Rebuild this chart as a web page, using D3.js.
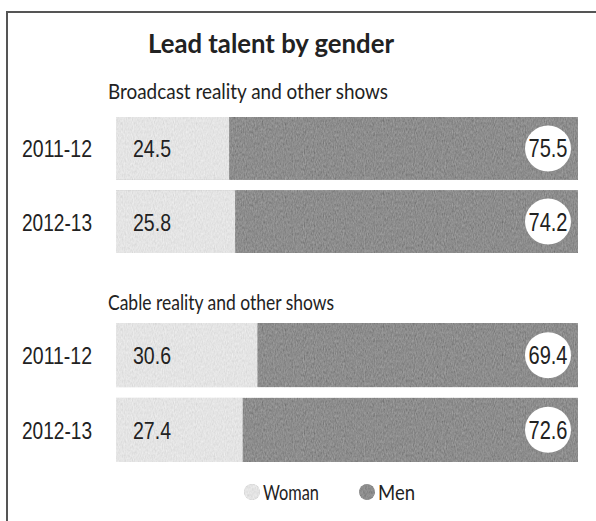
<!DOCTYPE html>
<html>
<head>
<meta charset="utf-8">
<script src="https://cdn.jsdelivr.net/npm/d3@7"></script>
<style>
  html, body { margin: 0; padding: 0; background: #fff; }
  svg { display: block; }
</style>
</head>
<body>
<svg id="chart" width="596" height="521"></svg>
<script>
// Share of lead talent by gender, per show type and season (percent)
const chartTitle = "Lead talent by gender";
const groups = ["Broadcast reality and other shows", "Cable reality and other shows"];
const seasons = ["2011-12", "2012-13"];
const womanValues = [[24.5, 25.8], [30.6, 27.4]];
const menValues = [[75.5, 74.2], [69.4, 72.6]];
const legendLabels = ["Woman", "Men"];

const W = 596, H = 521;
const svg = d3.select("#chart");

const colWoman = "#e4e4e4";
const colMen = "#8d8d8d";
const narrow = "'Liberation Sans Narrow', 'Liberation Sans', Arial, sans-serif";
const humanist = "Lato, 'Open Sans', sans-serif";

// condense a text element horizontally to a target width
function fitWidth(sel, w) {
  sel.attr("textLength", w).attr("lengthAdjust", "spacingAndGlyphs");
}

// grain texture for the bar fills
const defs = svg.append("defs");
const grain = defs.append("filter").attr("id", "grain")
  .attr("x", 0).attr("y", 0).attr("width", 1).attr("height", 1);
grain.append("feTurbulence").attr("type", "fractalNoise")
  .attr("baseFrequency", "0.9 0.35").attr("numOctaves", 2).attr("seed", 7).attr("result", "noise");
grain.append("feColorMatrix").attr("in", "noise").attr("type", "matrix")
  .attr("values", "0.33 0.33 0.33 0 0  0.33 0.33 0.33 0 0  0.33 0.33 0.33 0 0  0 0 0 0 1")
  .attr("result", "gray");
grain.append("feComposite").attr("in", "SourceGraphic").attr("in2", "gray")
  .attr("operator", "arithmetic").attr("k1", 0).attr("k2", 1).attr("k3", 0.4).attr("k4", -0.2)
  .attr("result", "mix");
grain.append("feComposite").attr("in", "mix").attr("in2", "SourceGraphic").attr("operator", "in");

// frame (top and left rules)
svg.append("line").attr("x1", 6).attr("x2", W).attr("y1", 12).attr("y2", 12)
  .attr("stroke", "#555").attr("stroke-width", 2);
svg.append("line").attr("x1", 7).attr("x2", 7).attr("y1", 12).attr("y2", H)
  .attr("stroke", "#555").attr("stroke-width", 2);

// title
svg.append("text").attr("x", 271).attr("y", 53)
  .attr("text-anchor", "middle")
  .attr("font-family", humanist).attr("font-weight", 700)
  .attr("font-size", 26).attr("fill", "#222")
  .text(chartTitle)
  .call(fitWidth, 246);

const x = d3.scaleLinear().domain([0, 100]).range([116, 578]);

const groupRanges = [[117, 253], [323, 462]];
const subtitleY = [99, 310];

groups.forEach((g, gi) => {
  const y = d3.scaleBand().domain(seasons).range(groupRanges[gi]).paddingInner(0.14);

  svg.append("text").attr("x", 108).attr("y", subtitleY[gi])
    .attr("font-family", humanist)
    .attr("font-size", 21).attr("fill", "#222")
    .text(g)
    .call(fitWidth, gi === 0 ? 280 : 226);

  const rows = seasons.map((s, si) => ({ season: s, woman: womanValues[gi][si], men: menValues[gi][si] }));

  const row = svg.append("g").selectAll("g").data(rows).join("g")
    .attr("transform", d => `translate(0,${y(d.season)})`);

  const bh = y.bandwidth();

  row.append("rect")
    .attr("x", x(0)).attr("y", 0)
    .attr("width", d => x(d.woman) - x(0)).attr("height", bh)
    .attr("fill", colWoman).attr("filter", "url(#grain)");

  row.append("rect")
    .attr("x", d => x(d.woman)).attr("y", 0)
    .attr("width", d => x(d.woman + d.men) - x(d.woman)).attr("height", bh)
    .attr("fill", colMen).attr("filter", "url(#grain)");

  row.append("text")
    .attr("x", 22).attr("y", bh / 2 + 9)
    .attr("font-family", narrow)
    .attr("font-size", 24).attr("fill", "#222")
    .text(d => d.season)
    .call(fitWidth, 70);

  row.append("text")
    .attr("x", 133).attr("y", bh / 2 + 9)
    .attr("font-family", narrow)
    .attr("font-size", 24).attr("fill", "#222")
    .text(d => d.woman.toFixed(1))
    .call(fitWidth, 38);

  row.append("circle")
    .attr("cx", d => x(d.woman + d.men) - 30).attr("cy", bh / 2)
    .attr("r", 23).attr("fill", "#fff");

  row.append("text")
    .attr("x", d => x(d.woman + d.men) - 30).attr("y", bh / 2 + 9)
    .attr("text-anchor", "middle")
    .attr("font-family", narrow)
    .attr("font-size", 25).attr("fill", "#222")
    .text(d => d.men.toFixed(1))
    .call(fitWidth, 39);
});

// legend
const legend = svg.append("g");
const legendX = [252, 367];
const legendColors = [colWoman, colMen];
legendLabels.forEach((lab, i) => {
  legend.append("circle").attr("cx", legendX[i]).attr("cy", 492).attr("r", 8)
    .attr("fill", legendColors[i]).attr("filter", "url(#grain)");
  legend.append("text").attr("x", legendX[i] + 11).attr("y", 500)
    .attr("font-family", humanist)
    .attr("font-size", 21).attr("fill", "#222")
    .text(lab)
    .call(fitWidth, i === 0 ? 56 : 37);
});
</script>
</body>
</html>
